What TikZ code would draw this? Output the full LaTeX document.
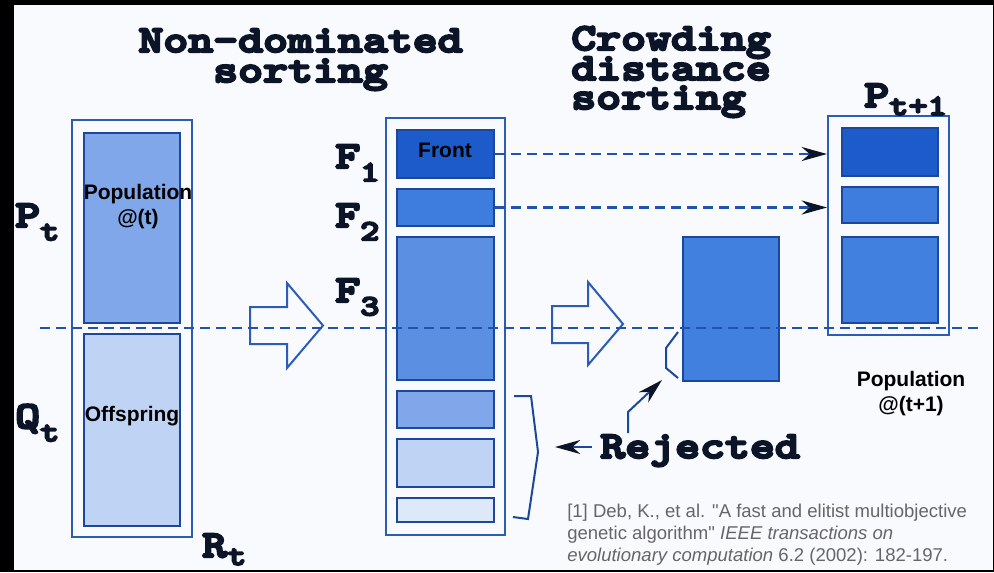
\documentclass[tikz,border=0pt]{standalone}
\usepackage{fontspec}
\setmainfont{Liberation Sans}
\newfontfamily\cour{lmmonolt10-bold.otf}[FakeStretch=1.25,FakeBold=6]
\usetikzlibrary{arrows.meta,fit}
\definecolor{bgc}{HTML}{F8FAFE}
\definecolor{boxc}{HTML}{2B5CB6}
\definecolor{edgec}{HTML}{1B479C}
\definecolor{dashc}{HTML}{2152B2}
\definecolor{inkc}{HTML}{0C1428}
\definecolor{refc}{HTML}{666666}
\definecolor{fA}{HTML}{1D5BCB}
\definecolor{fB}{HTML}{3E7CDE}
\definecolor{fC}{HTML}{5A8FE2}
\definecolor{fD}{HTML}{7FA7EA}
\definecolor{fE}{HTML}{BFD3F4}
\definecolor{fF}{HTML}{DDE8F9}
\definecolor{fG}{HTML}{4280E0}
\newcommand\subx[2]{\raisebox{#1}{\fontsize{22}{22}\selectfont #2}}
\tikzset{
  outerbox/.style={draw=boxc, line width=1.5pt, inner sep=0pt},
  blk/.style={draw=edgec, line width=2pt, inner sep=0pt},
  bigtxt/.style={font=\cour\fontsize{28.5}{30}\selectfont, text=inkc, inner sep=0pt},
  lbl/.style={font=\bfseries\fontsize{15.75}{18.75}\selectfont, text=black, inner sep=0pt, align=center},
  dashln/.style={draw=dashc, line width=2pt, dash pattern=on 7.5pt off 4.5pt},
  tip/.style={-{Stealth[length=19pt,width=10.5pt,inset=6pt,color=inkc]}},
  thinln/.style={draw=edgec, line width=1.5pt},
  hollow/.style={draw=boxc, line width=1.5pt, fill=bgc, line join=miter},
}
\begin{document}
\begin{tikzpicture}[x=0.75pt,y=-0.75pt]
\useasboundingbox (0,0) rectangle (994,572);
\fill[black] (0,0) rectangle (994,572);
\fill[bgc] (14,5) rectangle (993,570);

% titles
\node[bigtxt, anchor=base] (ndA) at (300.5,52) {Non-dominated};
\node[bigtxt, anchor=base] (ndB) at (300.5,82) {sorting};
\node[bigtxt, anchor=base west] (cdA) at (571,50) {Crowding};
\node[bigtxt, anchor=base west] (cdB) at (571,80) {distance};
\node[bigtxt, anchor=base west] (cdC) at (571,109) {sorting};

% left column R_t
\node[outerbox, fit={(72,120) (192,537)}] (Rt) {};
\node[blk, fill=fD, fit={(84,133) (180,323)}] (pop) {};
\node[blk, fill=fE, fit={(84,334) (180,526)}] (off) {};
\node[lbl] (popL) at (138,207) {Population\\@(t)};
\node[lbl] (offL) at (132,416) {Offspring};

% middle column
\node[outerbox, fit={(386,118) (505,535)}] (mid) {};
\node[blk, fill=fA, fit={(397,130) (494,178)}] (f1) {};
\node[blk, fill=fB, fit={(397,189) (494,226)}] (f2) {};
\node[blk, fill=fC, fit={(397,237) (494,380)}] (f3) {};
\node[blk, fill=fD, fit={(397,391) (494,428)}] (r1) {};
\node[blk, fill=fE, fit={(397,439) (494,487)}] (r2) {};
\node[blk, fill=fF, fit={(397,498) (494,522)}] (r3) {};
\node[lbl] (frL) at (445,150) {Front};

% cut part of F3
\node[blk, fill=fG, fit={(683,237) (779,381)}] (cut) {};

% right column P_{t+1}
\node[outerbox, fit={(828,116) (949,335)}] (nxt) {};
\node[blk, fill=fA, fit={(842,128) (938,176)}] (n1) {};
\node[blk, fill=fB, fit={(842,187) (938,223)}] (n2) {};
\node[blk, fill=fG, fit={(842,237) (938,323)}] (n3) {};
\node[lbl] (nxtL) at (911,394) {Population\\@(t+1)};

% symbols
\node[bigtxt, anchor=base west] (Pt) at (15,227) {P\subx{-10pt}{t}};
\node[bigtxt, anchor=base west] (Qt) at (15,428) {Q\subx{-10pt}{t}};
\node[bigtxt, anchor=base west] (Rl) at (202,557) {R\subx{-6pt}{t}};
\node[bigtxt, anchor=base west] (F1l) at (335,168) {F\subx{-10pt}{1}};
\node[bigtxt, anchor=base west] (F2l) at (335,227) {F\subx{-10pt}{2}};
\node[bigtxt, anchor=base west] (F3l) at (335,302) {F\subx{-10pt}{3}};
\node[bigtxt, anchor=base west] (Pn) at (864,107) {P\subx{-6pt}{t+1}};

% rejected
\node[bigtxt, anchor=base west] (rej) at (600,458) {Rejected};
\coordinate (rjs) at (592,447);
\coordinate (rjt) at (555,447);
\draw[thinln, tip] (rjs) -- (rjt);
\coordinate (upa) at (628,433);
\coordinate (upb) at (628,412);
\coordinate (upc) at (662,380);
\draw[thinln, tip] (upa) -- (upb) -- (upc);
\draw[thinln] (678,332) -- (666,348) -- (666,368) -- (678,378);
\draw[thinln] (514,396) -- (531,396) -- (538,452) -- (528,519) -- (513,517);

% hollow arrows
\draw[hollow] (250,307) -- (287,307) -- (287,283) -- (323,325.5) -- (287,368) -- (287,344) -- (250,344) -- cycle;
\draw[hollow] (552,306) -- (588,306) -- (588,282) -- (623,324) -- (588,365) -- (588,343) -- (552,343) -- cycle;

% dashed connectors
\draw[dashln, tip] (f1.east) -- (f1.east -| nxt.west);
\draw[dashln, tip] (f2.east) -- (f2.east -| nxt.west);
\coordinate (dl) at (40,328);
\coordinate (dr) at (982,328);
\draw[dashln] (dl) -- (dr);

% reference
\node[font=\fontsize{13.9}{16.5}\selectfont, text=refc, align=left, anchor=north west, inner sep=0pt] (ref) at (567,504)
 {[1] Deb, K., et al. \textquotedbl A fast and elitist multiobjective\\genetic algorithm\textquotedbl\ \textit{IEEE transactions on}\\\textit{evolutionary computation} 6.2 (2002): 182-197.};
\end{tikzpicture}
\end{document}
